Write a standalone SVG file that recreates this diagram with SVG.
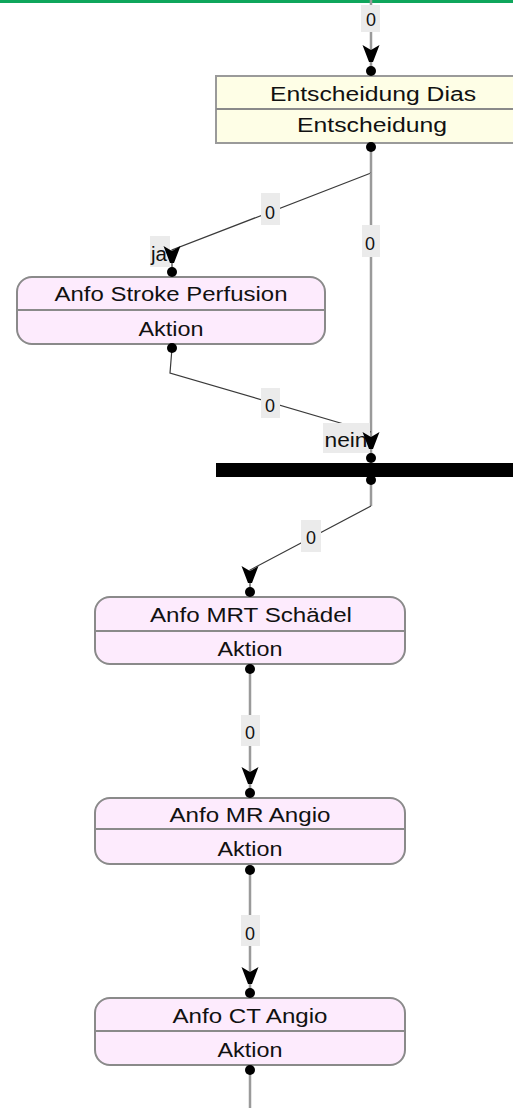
<svg xmlns="http://www.w3.org/2000/svg" width="513" height="1108" viewBox="0 0 513 1108">
<style>
.t{font-family:"Liberation Sans",Arial,sans-serif;font-size:20px;fill:#111;text-anchor:middle}
.l{font-family:"Liberation Sans",Arial,sans-serif;font-size:19px;fill:#111;text-anchor:middle}
.w{font-family:"Liberation Sans",Arial,sans-serif;font-size:20px;fill:#111;text-anchor:middle}
.lb{fill:#ebebeb}
.v{stroke:#9a9a9a;stroke-width:2.5;fill:none}
.d{stroke:#3a3a3a;stroke-width:1.2;fill:none}
.act{fill:#fdebfd;stroke:#8a8a8a;stroke-width:2}
.dec{fill:#fefee6;stroke:#9a9a9a;stroke-width:2}
.sep{stroke:#8a8a8a;stroke-width:2}
</style>
<defs>
<path id="ah" d="M-8.5,0 L0,5 L8.5,0 L2,17 L-2,17 Z" fill="#000"/>
<circle id="dot" r="5" fill="#000"/>
</defs>
<rect x="0" y="0" width="513" height="3" fill="#0fa65c"/>

<g id="decision">
<rect class="dec" x="216" y="76" width="320" height="67"/>
<line class="sep" x1="216" y1="109" x2="536" y2="109"/>
<text class="t" x="373" y="101" textLength="206" lengthAdjust="spacingAndGlyphs">Entscheidung Dias</text>
<text class="t" x="372" y="132" textLength="150" lengthAdjust="spacingAndGlyphs">Entscheidung</text>
</g>

<g id="perfusion">
<rect class="act" x="17" y="277" width="308" height="67" rx="15"/>
<line class="sep" x1="17" y1="310" x2="325" y2="310"/>
<text class="t" x="171" y="301" textLength="233" lengthAdjust="spacingAndGlyphs">Anfo Stroke Perfusion</text>
<text class="t" x="171" y="336" textLength="65" lengthAdjust="spacingAndGlyphs">Aktion</text>
</g>

<g id="bar">
<rect x="216" y="463" width="300" height="14" fill="#000"/>
</g>

<g id="mrt">
<rect class="act" x="95" y="597" width="310" height="67" rx="15"/>
<line class="sep" x1="95" y1="631" x2="405" y2="631"/>
<text class="t" x="251" y="622" textLength="202" lengthAdjust="spacingAndGlyphs">Anfo MRT Schädel</text>
<text class="t" x="250" y="656" textLength="65" lengthAdjust="spacingAndGlyphs">Aktion</text>
</g>

<g id="mrangio">
<rect class="act" x="95" y="798" width="310" height="66" rx="15"/>
<line class="sep" x1="95" y1="829" x2="405" y2="829"/>
<text class="t" x="250" y="822" textLength="161" lengthAdjust="spacingAndGlyphs">Anfo MR Angio</text>
<text class="t" x="250" y="856" textLength="65" lengthAdjust="spacingAndGlyphs">Aktion</text>
</g>

<g id="ctangio">
<rect class="act" x="95" y="998" width="310" height="67" rx="15"/>
<line class="sep" x1="95" y1="1031" x2="405" y2="1031"/>
<text class="t" x="250" y="1023" textLength="155" lengthAdjust="spacingAndGlyphs">Anfo CT Angio</text>
<text class="t" x="250" y="1057" textLength="65" lengthAdjust="spacingAndGlyphs">Aktion</text>
</g>

<g id="connectors">
<!-- top incoming -->
<line class="v" x1="371" y1="0" x2="371" y2="71"/>
<rect class="lb" x="361" y="5" width="19" height="27"/>
<text class="l" x="371" y="26" textLength="10" lengthAdjust="spacingAndGlyphs">0</text>
<use href="#ah" x="371" y="45"/>
<use href="#dot" x="371" y="71"/>

<!-- decision to ja -->
<line class="v" x1="371" y1="147" x2="371" y2="173"/>
<polyline class="d" points="371,173 172,250 172,272"/>
<use href="#dot" x="371" y="147"/>
<rect class="lb" x="261" y="193" width="19" height="32"/>
<text class="l" x="270" y="219" textLength="10" lengthAdjust="spacingAndGlyphs">0</text>
<rect class="lb" x="150" y="236" width="20" height="31"/>
<text class="w" x="159" y="261" textLength="16" lengthAdjust="spacingAndGlyphs">ja</text>
<use href="#ah" x="172" y="246"/>
<use href="#dot" x="172" y="272"/>

<!-- decision to bar (nein) -->
<line class="v" x1="371" y1="173" x2="371" y2="458"/>
<rect class="lb" x="362" y="225" width="18" height="32"/>
<text class="l" x="370" y="250" textLength="10" lengthAdjust="spacingAndGlyphs">0</text>

<!-- perfusion to bar -->
<polyline class="d" points="172,348 170,373 371,432"/>
<use href="#dot" x="172" y="348"/>
<rect class="lb" x="261" y="388" width="19" height="30"/>
<text class="l" x="270" y="412" textLength="10" lengthAdjust="spacingAndGlyphs">0</text>
<rect class="lb" x="323" y="423" width="47" height="30"/>
<text class="w" x="346" y="447" textLength="43" lengthAdjust="spacingAndGlyphs">nein</text>
<use href="#ah" x="371" y="432"/>
<use href="#dot" x="371" y="458"/>

<!-- bar to MRT -->
<line class="v" x1="371" y1="480" x2="371" y2="506"/>
<polyline class="d" points="371,506 250,570 250,592"/>
<use href="#dot" x="371" y="480"/>
<rect class="lb" x="301" y="520" width="20" height="32"/>
<text class="l" x="311" y="544" textLength="10" lengthAdjust="spacingAndGlyphs">0</text>
<use href="#ah" x="250" y="566"/>
<use href="#dot" x="250" y="592"/>

<!-- MRT to MR -->
<line class="v" x1="250" y1="669" x2="250" y2="793"/>
<use href="#dot" x="250" y="669"/>
<rect class="lb" x="241" y="715" width="19" height="31"/>
<text class="l" x="250" y="739" textLength="10" lengthAdjust="spacingAndGlyphs">0</text>
<use href="#ah" x="250" y="767"/>
<use href="#dot" x="250" y="793"/>

<!-- MR to CT -->
<line class="v" x1="250" y1="870" x2="250" y2="993"/>
<use href="#dot" x="250" y="870"/>
<rect class="lb" x="241" y="915" width="19" height="31"/>
<text class="l" x="250" y="940" textLength="10" lengthAdjust="spacingAndGlyphs">0</text>
<use href="#ah" x="250" y="967"/>
<use href="#dot" x="250" y="993"/>

<!-- CT outgoing -->
<line class="v" x1="250" y1="1070" x2="250" y2="1108"/>
<use href="#dot" x="250" y="1070"/>
</g>
</svg>
